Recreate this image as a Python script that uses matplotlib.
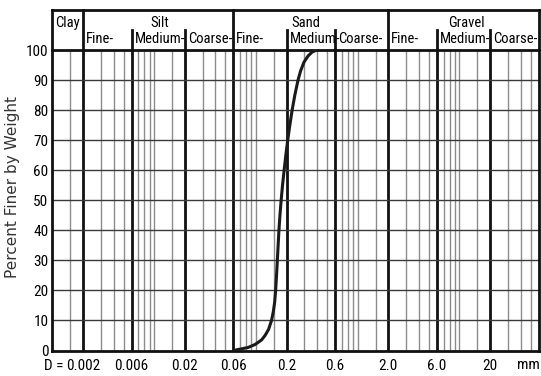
import matplotlib
matplotlib.use('Agg')
import matplotlib.pyplot as plt
from matplotlib.font_manager import fontManager, FontProperties

# grain size curve
diam = [0.0600, 0.0836, 0.0980, 0.1135, 0.1229, 0.1330, 0.1423, 0.1483, 0.1527,
        0.1562, 0.1594, 0.1623, 0.1653, 0.1683, 0.1722, 0.1769, 0.1826, 0.1893,
        0.1967, 0.2053, 0.2154, 0.2269, 0.2412, 0.2593, 0.2744, 0.2970, 0.3251,
        0.3559, 0.3958]
finer = [0, 1, 2, 3.5, 5, 7, 10, 13, 16,
         20, 25, 30, 35, 40, 45, 50, 55, 60,
         65, 70, 75, 80, 85, 90, 93, 96, 98,
         99.3, 100]

xtick_vals = [0.002, 0.006, 0.02, 0.06, 0.2, 0.6, 2.0, 6.0, 20]
xtick_text = ['0.002', '0.006', '0.02', '0.06', '0.2', '0.6', '2.0', '6.0', '20']
thin_lines = [0.0015, 0.003, 0.004, 0.005, 0.007, 0.008, 0.009, 0.01, 0.015,
              0.03, 0.04, 0.05, 0.07, 0.08, 0.09, 0.1, 0.15,
              0.3, 0.4, 0.5, 0.7, 0.8, 0.9, 1.0, 1.5,
              3, 4, 5, 7, 8, 9, 10, 15, 30, 40, 50]
main_div = [0.002, 0.06, 2.0]
sub_div = [0.006, 0.02, 0.2, 0.6, 6.0, 20]
groups = ['Clay', 'Silt', 'Sand', 'Gravel']
group_x = [0.00106, 0.01143, 0.311, 11.6]
sub_names = ['Fine-', 'Medium-', 'Coarse-'] * 3
sub_x = [0.002, 0.006, 0.02, 0.06, 0.2, 0.6, 2.0, 6.0, 20]


def upright(f):
    return (f.style == 'normal' and f.weight in (400, 'normal', 'regular')
            and 'Mono' not in f.name and 'Serif' not in f.name)


# look for a narrow sans font, the picture uses one
narrow_file = None
for key in ['Liberation Sans Narrow', 'Roboto Condensed', 'Narrow', 'Condensed']:
    for f in fontManager.ttflist:
        if key in f.name and upright(f):
            narrow_file = f.fname
            break
    if narrow_file:
        break
if narrow_file is None:
    for f in fontManager.ttflist:
        if f.stretch in ('condensed', 'semi-condensed') and upright(f):
            narrow_file = f.fname
            break

if narrow_file:
    fp = FontProperties(fname=narrow_file, size=11)
    fph = FontProperties(fname=narrow_file, size=10.5)
else:
    fp = FontProperties(family='Liberation Sans', size=9)
    fph = FontProperties(family='Liberation Sans', size=9)

fig = plt.figure(figsize=(5.41, 3.76), dpi=100)
ax = fig.add_axes([0.0969, 0.0678, 0.8987, 0.7992])
ax.set_xscale('log')
ax.set_xlim(0.001, 60)
ax.set_ylim(0, 100)

for v in thin_lines:
    ax.axvline(v, color='#8c8c8c', lw=1.0, zorder=1)
for v in main_div + sub_div:
    ax.axvline(v, color='#111111', lw=2.0, zorder=2)
for h in range(10, 100, 10):
    ax.axhline(h, color='#3a3a3a', lw=1.0, zorder=2)

ax.plot(diam, finer, color='#1a1a1a', lw=2.2, zorder=5, solid_capstyle='round')

for s in ax.spines.values():
    s.set_linewidth(2.0)
    s.set_color('#111111')

ax.set_yticks(range(0, 101, 10))
ax.set_yticklabels([str(v) for v in range(0, 101, 10)], fontproperties=fp)
ax.set_xticks(xtick_vals)
ax.set_xticklabels(xtick_text, fontproperties=fp)
ax.minorticks_off()
ax.tick_params(axis='both', length=0)
ax.tick_params(axis='y', pad=3)
ax.tick_params(axis='x', pad=6)

ax.annotate('D =', xy=(0.002, 0), xycoords=('data', 'axes fraction'),
            xytext=(-20, -15), textcoords='offset pixels', ha='right', va='center',
            fontproperties=fp)
ax.text(48, -0.047, 'mm', transform=ax.get_xaxis_transform(), ha='center', va='center',
        fontproperties=fp)

ax.set_ylabel('Percent Finer by Weight', fontsize=11, color='#333333')
ax.yaxis.set_label_coords(-0.066, 0.544)

# header box above the plot
tr = ax.get_xaxis_transform()
top = 1.133
ax.plot([0.001, 60], [top, top], color='#111111', lw=2.0, transform=tr, clip_on=False)
ax.plot([0.001, 0.001], [1.0, top], color='#111111', lw=2.0, transform=tr, clip_on=False)
ax.plot([60, 60], [1.0, top], color='#111111', lw=2.0, transform=tr, clip_on=False)
for v in main_div:
    ax.plot([v, v], [1.0, top], color='#111111', lw=2.0, transform=tr, clip_on=False)
for v in sub_div:
    ax.plot([v, v], [1.0, 1.067], color='#111111', lw=2.0, transform=tr, clip_on=False)

for name, x in zip(groups, group_x):
    ha = 'left' if name == 'Clay' else 'center'
    ax.text(x, 1.09, name, transform=tr, ha=ha, va='center', fontproperties=fph)
for name, x in zip(sub_names, sub_x):
    ax.text(x * 1.07, 1.038, name, transform=tr, ha='left', va='center', fontproperties=fph)

fig.savefig('out.png', dpi=100)
